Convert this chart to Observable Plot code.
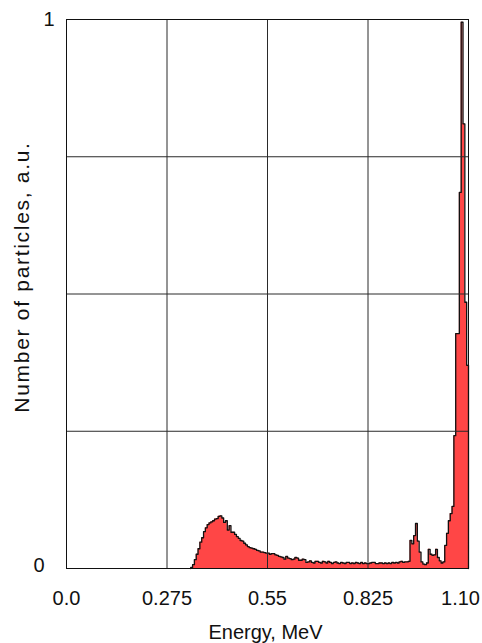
<!DOCTYPE html>
<html>
<head>
<meta charset="utf-8">
<script src="https://cdn.jsdelivr.net/npm/d3@7"></script>
<script src="https://cdn.jsdelivr.net/npm/@observablehq/plot@0.6"></script>
<style>
  body { margin: 0; background: #fff; }
  #chart svg { display: block; }
</style>
</head>
<body>
<div id="chart"></div>
<script>
// Energy spectrum histogram: fixed-width bins starting at binStart (MeV)
const binStart = 0.34;
const binWidth = 0.005;
const counts = [
  0.002, 0.007, 0.016, 0.026, 0.036, 0.048, 0.056, 0.067, 0.074, 0.080,
  0.083, 0.085, 0.087, 0.090, 0.091, 0.095, 0.096, 0.092, 0.084, 0.087,
  0.070, 0.078, 0.066, 0.066, 0.062, 0.058, 0.055, 0.051, 0.050, 0.046,
  0.043, 0.040, 0.038, 0.037, 0.036, 0.035, 0.033, 0.032, 0.030, 0.030,
  0.029, 0.028,
  0.028, 0.026, 0.027, 0.027, 0.025, 0.024, 0.022, 0.021, 0.020, 0.017,
  0.022, 0.019, 0.018, 0.016, 0.017, 0.020, 0.019, 0.015, 0.015, 0.017,
  0.016, 0.011, 0.012, 0.014, 0.011, 0.010, 0.013, 0.013, 0.011, 0.010,
  0.013, 0.012, 0.010, 0.013, 0.011, 0.009, 0.011, 0.012, 0.010, 0.009,
  0.011, 0.010, 0.009, 0.011, 0.011, 0.009, 0.010, 0.009, 0.011, 0.010,
  0.009, 0.011, 0.009, 0.010, 0.009, 0.009, 0.010, 0.011, 0.011, 0.009,
  0.009, 0.010, 0.010, 0.009, 0.010, 0.009, 0.010, 0.009, 0.011, 0.010,
  0.011, 0.010, 0.012, 0.013, 0.011, 0.012, 0.012, 0.013,
  0.051, 0.045, 0.060, 0.082, 0.050, 0.030, 0.012, 0.008, 0.007, 0.010,
  0.035, 0.026, 0.024, 0.025, 0.035, 0.020, 0.014, 0.010, 0.012, 0.042,
  0.064, 0.087, 0.100, 0.113, 0.242, 0.428, 0.428, 0.685, 0.995, 0.810,
  0.485, 0.370
];

const xTicks = [0, 0.275, 0.55, 0.825, 1.1];
const xTickLabels = ["0.0", "0.275", "0.55", "0.825", "1.10"];
const yGrid = [0.25, 0.5, 0.75];
const xTitle = "Energy, MeV";
const yTitle = "Number of particles, a.u.";

// Step outline points: rise from zero at the first edge, one point per bin, close at the last edge
const lastEdge = binStart + counts.length * binWidth;
const steps = [
  {e: binStart, n: 0},
  ...counts.map((n, i) => ({e: binStart + i * binWidth, n})),
  {e: lastEdge, n: counts[counts.length - 1]},
  {e: lastEdge, n: 0}
];

const tickLabel = new Map(xTicks.map((t, i) => [t, xTickLabels[i]]));
const font = "'Liberation Sans', Arial, sans-serif";

const chart = Plot.plot({
  width: 482,
  height: 643,
  marginLeft: 66,
  marginRight: 14,
  marginTop: 19,
  marginBottom: 75,
  style: {fontFamily: font, color: "#111", background: "#fff"},
  x: {domain: [0, 1.1]},
  y: {domain: [0, 1]},
  marks: [
    Plot.areaY(steps, {x: "e", y: "n", curve: "step-after", fill: "#ff4646"}),
    Plot.lineY(steps, {x: "e", y: "n", curve: "step-after", stroke: "#111", strokeWidth: 1.3}),
    Plot.ruleX(xTicks.slice(1, -1), {stroke: "#2a2a2a", strokeWidth: 1}),
    Plot.ruleY(yGrid, {stroke: "#2a2a2a", strokeWidth: 1}),
    Plot.frame({stroke: "#111", strokeWidth: 1}),
    Plot.axisX(xTicks.slice(0, -1), {
      tickSize: 0, tickPadding: 22, fontSize: 20, label: null,
      tickFormat: (d) => tickLabel.get(d)
    }),
    Plot.axisX(xTicks.slice(-1), {
      tickSize: 0, tickPadding: 22, fontSize: 20, label: null, dx: -8,
      tickFormat: (d) => tickLabel.get(d)
    }),
    Plot.axisY([1], {tickSize: 0, tickPadding: 12, fontSize: 20, label: null, tickFormat: (d) => String(d)}),
    Plot.axisY([0], {tickSize: 0, tickPadding: 22, fontSize: 20, label: null, dy: -3, tickFormat: (d) => String(d)}),
    Plot.text([xTitle], {frameAnchor: "bottom", lineAnchor: "middle", textAnchor: "middle", dy: 64.5, dx: -2, fontSize: 20, fill: "#111"}),
    Plot.text([yTitle], {frameAnchor: "left", lineAnchor: "middle", textAnchor: "middle", rotate: -90, dx: -44, dy: -17, fontSize: 21, fill: "#111"})
  ]
});

// The vertical title is set a little looser than the other labels
for (const t of chart.querySelectorAll("text")) {
  if (t.textContent === yTitle) t.style.letterSpacing = "1.7px";
}

document.getElementById("chart").append(chart);
</script>
</body>
</html>
